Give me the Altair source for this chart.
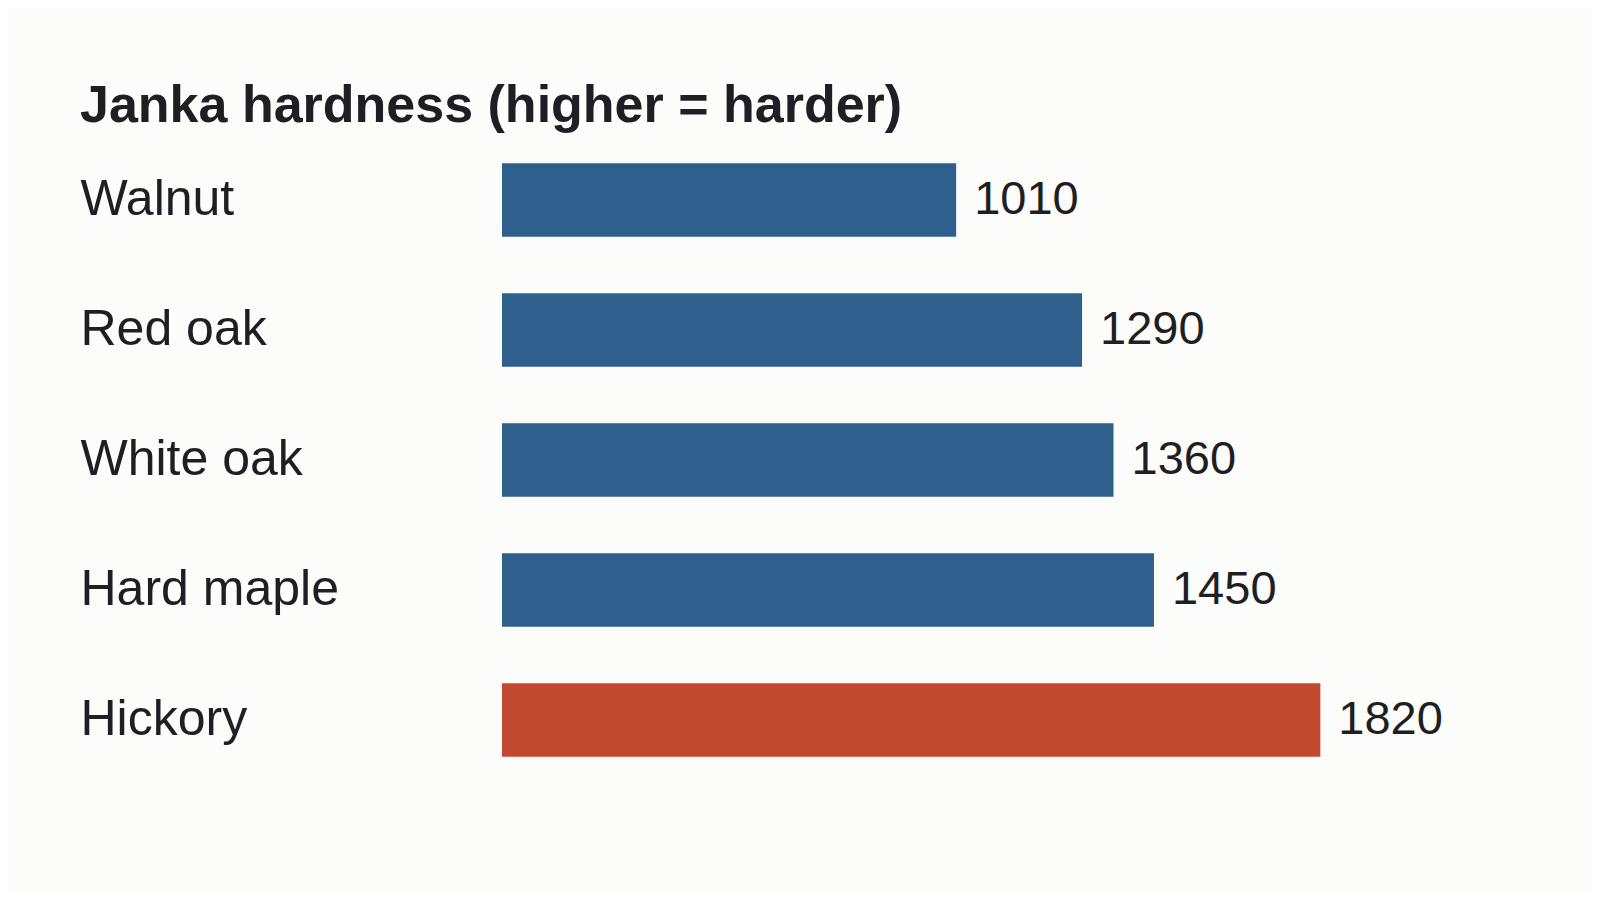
import altair as alt
import pandas as pd

woods = ["Walnut", "Red oak", "White oak", "Hard maple", "Hickory"]
hardness = [1010, 1290, 1360, 1450, 1820]
highlight = [False, False, False, False, True]

df = pd.DataFrame({"wood": woods, "hardness": hardness, "hl": highlight})

y_enc = alt.Y(
    "wood:N",
    sort=woods,
    title=None,
    scale=alt.Scale(paddingInner=0.435, paddingOuter=0.2175),
    axis=alt.Axis(
        domain=False, ticks=False, labelAlign="left", labelPadding=422,
        labelFontSize=50, labelFont="Liberation Sans", labelColor="#1e1e23",
        labelLimit=420,
    ),
)
x_enc = alt.X("hardness:Q", scale=alt.Scale(domain=[0, 2224]), axis=None)

bars = alt.Chart(df).mark_bar().encode(
    x=x_enc,
    y=y_enc,
    color=alt.Color(
        "hl:N",
        scale=alt.Scale(domain=[False, True], range=["#2f5f8c", "#c0492f"]),
        legend=None,
    ),
)

labels = alt.Chart(df).mark_text(
    align="left", baseline="middle", dx=18, fontSize=47,
    font="Liberation Sans", color="#1e1e23",
).encode(x=x_enc, y=y_enc, text="hardness:Q")

chart = (
    alt.layer(bars, labels)
    .properties(
        width=1000,
        height=650,
        background="#fcfcfa",
        padding={"left": 494, "top": 127, "right": 90, "bottom": 107},
        autosize=alt.AutoSizeParams(type="none"),
        title=alt.TitleParams(
            "Janka hardness (higher = harder)",
            anchor="start", frame="bounds", fontSize=52,
            font="Liberation Sans", fontWeight="bold", color="#1e1e23",
            offset=2,
        ),
    )
    .configure_view(stroke=None)
)

chart.save("out.html", embed_options={"renderer": "svg", "actions": False})
